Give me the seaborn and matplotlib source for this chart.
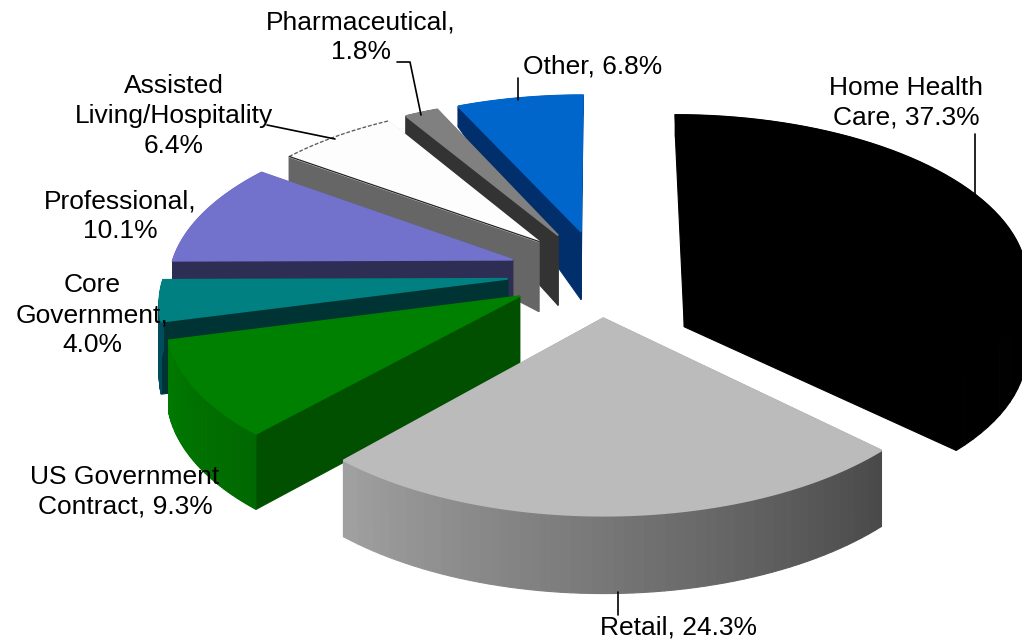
import numpy as np
import seaborn as sns
import matplotlib
matplotlib.use("Agg")
import matplotlib.pyplot as plt

# clockwise from 12 o'clock
sectors = ["Home Health\nCare", "Retail", "US Government\nContract", "Core\nGovernment",
           "Professional", "Assisted\nLiving/Hospitality", "Pharmaceutical", "Other"]
shares = [37.3, 24.3, 9.3, 4.0, 10.1, 6.4, 1.8, 6.8]

top_colors = ["#000000", "#BBBBBB", "#008000", "#008080", "#7272CC", "#FDFDFD", "#808080", "#0066CC"]
face_colors = ["#000000", "#4C4C4C", "#005000", "#003333", "#2E2E55", "#666666", "#333333", "#002F6B"]
# rim colour at the start and at the end of each sector
rim_start = ["#000000", "#4A4A4A", "#006800", "#004D5D", "#2E2E55", "#666666", "#333333", "#002F6B"]
rim_end = ["#000000", "#A0A0A0", "#007A00", "#004D5D", "#2E2E55", "#666666", "#333333", "#002F6B"]

# pulled out of the pie, same for all
EXPLODE = 0.27
CX, CY = 600, 273
RX, RY = 343, 162
PERSP = 0.12


def project(u, v):
    s = 1 / (1 - PERSP * v)
    return CX + RX * u * s, CY + RY * v * s


def depth(y):
    # the extrusion shrinks a lot towards the back of the picture
    return np.interp(y, [100, 160, 235, 520], [20, 26, 70, 78])


def fill(ax, xs, ys, color, z, lw=0.8):
    ax.fill(xs, ys, facecolor=color, edgecolor=color, lw=lw, zorder=z)


def draw_sector(ax, a0, a1, top, face, c0, c1, z):
    mid = (a0 + a1) / 2
    du, dv = EXPLODE * np.sin(mid), -EXPLODE * np.cos(mid)
    t = np.linspace(a0, a1, 60)
    x, y = project(du + np.sin(t), dv - np.cos(t))
    ax0, ay0 = project(du, dv)
    d = depth(y)
    da = depth(ay0)

    # flat faces along the two cuts
    fill(ax, [ax0, x[0], x[0], ax0], [ay0, y[0], y[0] + d[0], ay0 + da], face, z)
    fill(ax, [ax0, x[-1], x[-1], ax0], [ay0, y[-1], y[-1] + d[-1], ay0 + da], face, z)

    # rim, shaded in small strips
    rim = sns.blend_palette([c0, c1], len(t) - 1)
    for i in range(len(t) - 1):
        fill(ax, [x[i], x[i + 1], x[i + 1], x[i]],
             [y[i], y[i + 1], y[i + 1] + d[i + 1], y[i] + d[i]], rim[i], z)

    fill(ax, np.r_[ax0, x], np.r_[ay0, y], top, z + 0.5, lw=1.3)
    return ax0, ay0, x, y


sns.set_style("white")
plt.rcParams["font.family"] = ["Liberation Sans", "DejaVu Sans"]

fig = plt.figure(figsize=(10.22, 6.44), dpi=100)
ax = fig.add_axes([0, 0, 1, 1])
ax.set_xlim(0, 1022)
ax.set_ylim(644, 0)
ax.axis("off")

edges = np.r_[0, np.cumsum(shares)] / sum(shares) * 2 * np.pi
# back to front
order = [7, 6, 5, 4, 3, 2, 0, 1]
for n, i in enumerate(order):
    ax0, ay0, x, y = draw_sector(ax, edges[i], edges[i + 1], top_colors[i], face_colors[i],
                                 rim_start[i], rim_end[i], 2 + n)
    if i == 5:
        # white slice has a thin outline
        ax.plot(x, y, color="#555555", lw=0.9, ls=(0, (3, 1.5)), zorder=2.7 + n)
        ax.plot([ax0, x[0]], [ay0, y[0]], color="#222222", lw=0.9, zorder=2.7 + n)

label_x = [906, 678, 125, 92, 120, 174, 361, 593]
label_y = [103, 628, 492, 315, 216, 116, 37, 66]
label_sep = [", ", ", ", ", ", ",\n", ",\n", "\n", ",\n", ", "]
for i, name in enumerate(sectors):
    ax.text(label_x[i], label_y[i], f"{name}{label_sep[i]}{shares[i]:.1f}%", ha="center", va="center",
            fontsize=19, color="black", linespacing=1.3, zorder=30)

leaders = [([975, 975], [134, 198]), ([618, 618], [592, 615]), ([518, 518], [78, 100]),
           ([397, 410, 421], [62, 62, 115]), ([267, 335], [125, 139])]
for lx, ly in leaders:
    ax.plot(lx, ly, color="black", lw=1.2, zorder=25)

fig.savefig("out.png", dpi=100, facecolor="white")
